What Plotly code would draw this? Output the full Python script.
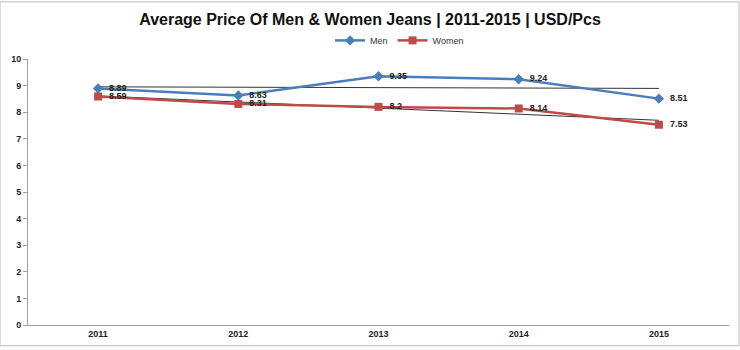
import numpy as np
import plotly.graph_objects as go

years = ["2011", "2012", "2013", "2014", "2015"]
men = [8.89, 8.63, 9.35, 9.24, 8.51]
women = [8.59, 8.31, 8.2, 8.14, 7.53]
men_labels = ["8.89", "8.63", "9.35", "9.24", "8.51"]
women_labels = ["8.59", "8.31", "8.2", "8.14", "7.53"]

FONT = "Liberation Sans, Arial"
BLUE = "#4a7ebb"
RED = "#be4b48"

def trend(vals):
    x = np.arange(len(vals))
    k, b = np.polyfit(x, vals, 1)
    return list(k * x + b)

def fmt(labels):
    return ["\u00a0\u00a0<b>%s</b>" % t for t in labels]

fig = go.Figure()
fig.add_trace(go.Scatter(x=years, y=trend(men), mode="lines", showlegend=False,
                         line=dict(color="#333333", width=1), hoverinfo="skip"))
fig.add_trace(go.Scatter(x=years, y=trend(women), mode="lines", showlegend=False,
                         line=dict(color="#333333", width=1), hoverinfo="skip"))
fig.add_trace(go.Scatter(x=years, y=men, name="Men", mode="lines+markers+text",
                         line=dict(color=BLUE, width=2.5),
                         marker=dict(symbol="diamond", size=8, color=BLUE),
                         text=fmt(men_labels), textposition="middle right",
                         textfont=dict(family=FONT, size=9, color="#222222")))
fig.add_trace(go.Scatter(x=years, y=women, name="Women", mode="lines+markers+text",
                         line=dict(color=RED, width=2.5),
                         marker=dict(symbol="square", size=8, color=RED),
                         text=fmt(women_labels), textposition="middle right",
                         textfont=dict(family=FONT, size=9, color="#222222")))

fig.update_layout(
    width=740, height=350,
    margin=dict(l=28, r=11, t=59, b=21),
    paper_bgcolor="white", plot_bgcolor="white",
    font=dict(family=FONT, color="#222222"),
    title=dict(text="<b>Average Price Of Men &amp; Women Jeans | 2011-2015 | USD/Pcs</b>",
               x=0.5, xanchor="center", y=0.945, yanchor="middle",
               font=dict(family=FONT, size=16, color="#111111")),
    legend=dict(orientation="h", x=0.53, xanchor="center", y=1.07, yanchor="middle",
                font=dict(family=FONT, size=9, color="#333333"),
                itemwidth=30, tracegroupgap=0),
    xaxis=dict(type="category", range=[-0.5, 4.5], showgrid=False, showline=True,
               linecolor="#a0a0a0", linewidth=1, ticks="",
               tickfont=dict(family=FONT, size=9, color="#222222"),
               tickprefix="<b>", ticksuffix="</b>"),
    yaxis=dict(range=[0, 10], dtick=1, showgrid=False, showline=True, linecolor="#a0a0a0",
               linewidth=1, ticks="outside", ticklen=4, tickcolor="#a0a0a0",
               tickfont=dict(family=FONT, size=9, color="#222222"),
               tickprefix="<b>", ticksuffix="</b>", zeroline=False),
    shapes=[dict(type="rect", xref="paper", yref="paper",
                 x0=-28/701, x1=1 + 10/701, y0=-21/270, y1=1 + 58/270,
                 line=dict(color="#bbbbbb", width=1))],
)

fig.write_html("out.html")
